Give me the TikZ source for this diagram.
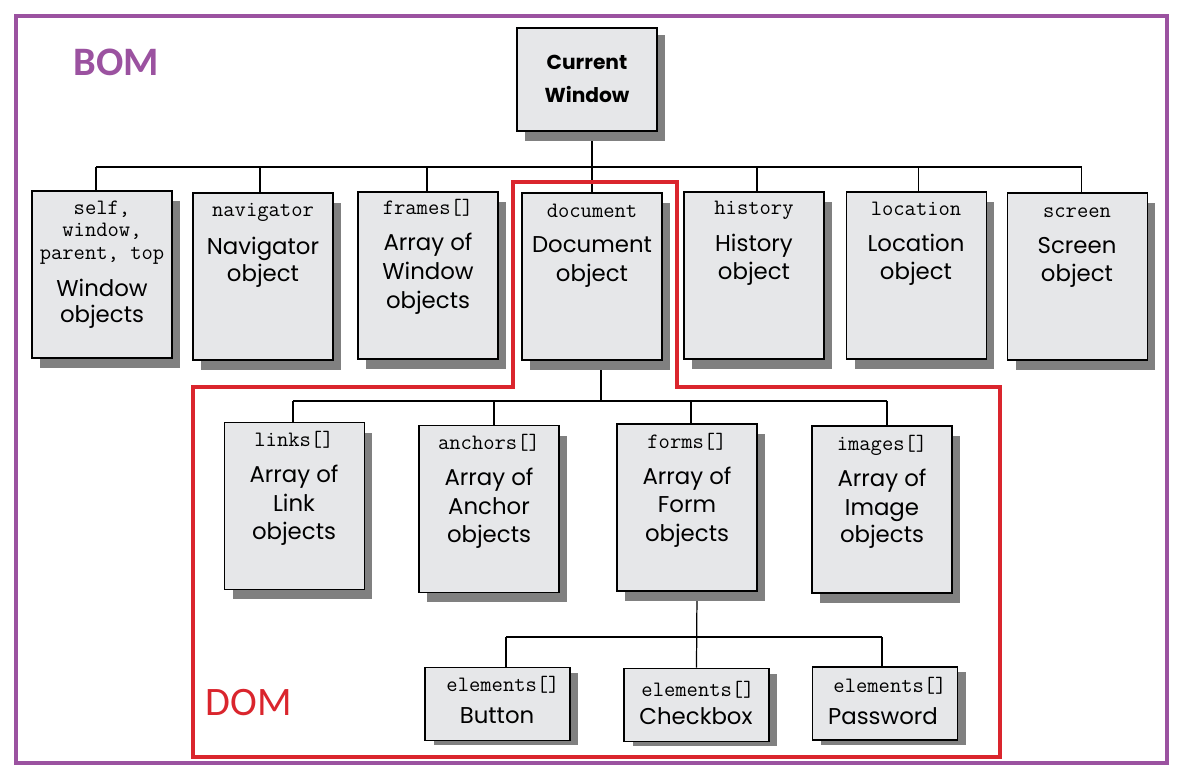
\documentclass[tikz,border=0pt]{standalone}
\usepackage{fontspec}
\setmainfont{Poppins}
\newfontfamily\calib{Carlito}
\usetikzlibrary{shadows,calc}
\definecolor{bompurple}{RGB}{155,82,160}
\definecolor{domred}{RGB}{218,37,45}
\definecolor{boxfill}{RGB}{230,231,233}
\definecolor{shgray}{RGB}{128,128,128}
\pgfdeclarelayer{bg}
\pgfsetlayers{bg,main}
\begin{document}
\begin{tikzpicture}[x=0.02cm,y=-0.02cm,
  obj/.style={draw=black, line width=0.9pt, fill=boxfill, inner sep=0pt,
    minimum width=2.8cm, minimum height=3.34cm,
    drop shadow={shadow xshift=0.16cm, shadow yshift=-0.2cm, fill=shgray, opacity=1}},
  topobj/.style={obj, minimum height=2.06cm,
    drop shadow={shadow xshift=0.16cm, shadow yshift=-0.14cm, fill=shgray, opacity=1}},
  elobj/.style={draw=black, line width=0.9pt, fill=boxfill, inner sep=0pt,
    minimum width=2.9cm, minimum height=1.46cm,
    drop shadow={shadow xshift=0.17cm, shadow yshift=-0.1cm, fill=shgray, opacity=1}},
  conn/.style={draw=black, line width=0.7pt},
  mono/.style={font=\ttfamily\fontsize{12.5}{14}\selectfont, inner sep=0pt, anchor=base},
  sans/.style={font=\fontsize{13}{16}\selectfont, inner sep=0pt, anchor=base},
  boldt/.style={font=\bfseries\fontsize{11.5}{14}\selectfont, inner sep=0pt, anchor=base},
  bomline/.style={draw=bompurple, line width=2.2pt},
  domline/.style={draw=domred, line width=1.8pt, line join=miter}
]
\useasboundingbox (0,0) rectangle (1188,766);

% frames
\draw[bomline] (16,16) rectangle (1167,763);
\node[font=\calib\bfseries\fontsize{23}{26}\selectfont, text=bompurple, inner sep=0pt, anchor=base] (bom) at (116,76) {BOM};
\draw[domline] (513,182) -- (677,182) -- (677,387) -- (1000,387) -- (1000,757) -- (193,757) -- (193,387) -- (513,387) -- cycle;
\node[font=\calib\fontsize{23}{26}\selectfont, text=domred, inner sep=0pt, anchor=base] (dom) at (249,716) {DOM};

% boxes
\node[topobj] (cw) at (587,79.5) {};
\node[obj] (self) at (102,274.5) {};
\node[obj] (nav) at (263,276.5) {};
\node[obj] (frames) at (428,275.5) {};
\node[obj] (doc) at (592,276.5) {};
\node[obj] (hist) at (754,275.5) {};
\node[obj] (loc) at (916.5,275.5) {};
\node[obj] (scr) at (1077.5,276.5) {};
\node[obj] (links) at (294.5,506) {};
\node[obj] (anch) at (489,509) {};
\node[obj] (forms) at (687,507.5) {};
\node[obj] (imgs) at (882,509.5) {};
\node[elobj] (btn) at (497.5,704) {};
\node[elobj] (chk) at (696.5,705) {};
\node[elobj] (pwd) at (885,703.5) {};

% texts
\node[boldt] (cwa) at (587,70) {Current};
\node[boldt] (cwb) at (587,103) {Window};
\foreach \nm/\x/\y/\t in {
  selfm1/102/215/{self,}, selfm2/102/237/{window,}, selfm3/102/260/{parent, top},
  navm/263/217/navigator, framesm/428/215/frames[], docm/592/218/document,
  histm/754/215/history, locm/916/216/location, scrm/1077/218/screen,
  linksm/294/447/links[], anchm/489/450/anchors[], formsm/687/449/forms[],
  imgsm/882/451/images[], btnm/503/692/elements[], chkm/698/697/elements[],
  pwdm/890/693/elements[]}
  \node[mono] (\nm) at (\x,\y) {\t};
\foreach \nm/\x/\y/\t in {
  self1/102/297/Window, self2/102/323/objects,
  nav1/263/255/Navigator, nav2/263/282/object,
  frames1/428/251/{Array of}, frames2/428/280/Window, frames3/428/309/objects,
  doc1/592/253/Document, doc2/592/282/object,
  hist1/754/252/History, hist2/754/280/object,
  loc1/916/252/Location, loc2/916/280/object,
  scr1/1077/254/Screen, scr2/1077/282/object,
  links1/294/483/{Array of}, links2/294/512/Link, links3/294/540/objects,
  anch1/489/486/{Array of}, anch2/489/515/Anchor, anch3/489/543/objects,
  forms1/687/485/{Array of}, forms2/687/513/Form, forms3/687/542/objects,
  imgs1/882/487/{Array of}, imgs2/882/516/Image, imgs3/882/543/objects,
  btn1/497/724/Button, chk1/696/725/Checkbox, pwd1/883/725/Password}
  \node[sans] (\nm) at (\x,\y) {\t};

% connectors
\coordinate (b1L) at (96,167);
\coordinate (b1R) at (1082,167);
\coordinate (b2L) at (293,401);
\coordinate (b2R) at (887,401);
\coordinate (b3L) at (506,637);
\coordinate (b3R) at (882,637);
\begin{pgfonlayer}{bg}
\fill[white] (0,0) rectangle (1188,766);
\draw[conn] (b1L) -- (b1R);
\draw[conn] (cw.south -| doc.north) -- (doc.north);
\foreach \n/\dx in {self/-6, nav/-3, frames/-1, hist/3, loc/2, scr/4}
  \draw[conn] ($(\n.north)+(\dx,0)$) -- ($(\n.north |- b1L)+(\dx,0)$);
\draw[conn] (b2L) -- (b2R);
\draw[conn] ($(doc.south)+(9,0)$) -- ($(doc.south |- b2L)+(9,0)$);
\foreach \n/\dx in {links/-1.5, anch/5, forms/4, imgs/5}
  \draw[conn] ($(\n.north)+(\dx,0)$) -- ($(\n.north |- b2L)+(\dx,0)$);
\draw[conn] (b3L) -- (b3R);
\draw[conn] ($(forms.south)+(10,0)$) -- (chk.north);
\foreach \n/\dx in {btn/8.5, pwd/-3}
  \draw[conn] ($(\n.north)+(\dx,0)$) -- ($(\n.north |- b3L)+(\dx,0)$);
\end{pgfonlayer}
\end{tikzpicture}
\end{document}
